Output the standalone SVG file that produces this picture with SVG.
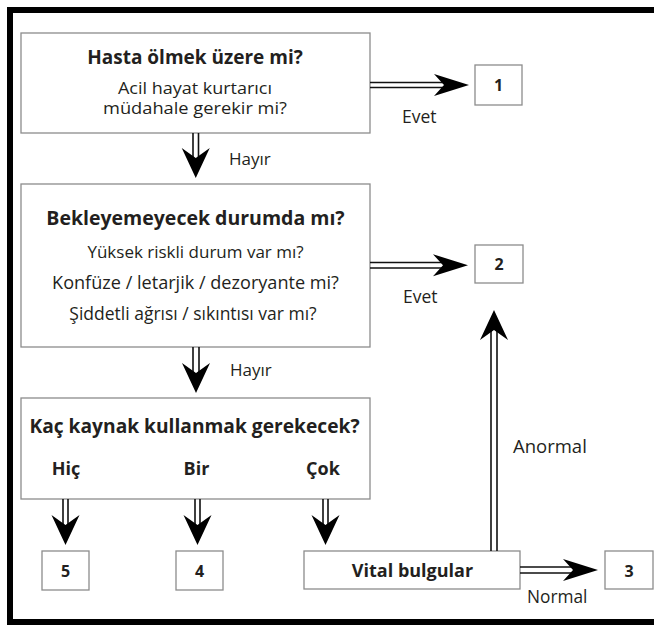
<svg xmlns="http://www.w3.org/2000/svg" xmlns:xlink="http://www.w3.org/1999/xlink" width="654" height="625" viewBox="0 0 654 625">
<style>
.box{fill:#fff;stroke:#8c8c8c;stroke-width:1.3}
text{font-family:"Open Sans","Noto Sans",sans-serif;fill:#231f20}
.b{font-weight:bold;font-size:19px}
.r{font-size:17.5px}
.n{font-weight:bold;font-size:16px}
.m{text-anchor:middle}
.dl{stroke:#111;stroke-width:1.6;fill:none}
</style>
<defs>
<path id="ah" d="M0,0 L-35,-11 L-25,0 L-35,11 Z" fill="#000"/>
<path id="av" d="M0,0 L-30,-14 L-20,0 L-30,14 Z" fill="#000"/>
</defs>
<rect x="10" y="10" width="660" height="612" fill="#fff" stroke="#000" stroke-width="6"/>

<g id="n-q1">
<rect class="box" x="21" y="33" width="349" height="100"/>
<text class="b m" x="195" y="64">Hasta ölmek üzere mi?</text>
<text class="r m" x="195" y="94" style="font-size:16px" textLength="154" lengthAdjust="spacingAndGlyphs">Acil hayat kurtarıcı</text>
<text class="r m" x="195" y="114" style="font-size:16px" textLength="184" lengthAdjust="spacingAndGlyphs">müdahale gerekir mi?</text>
</g>
<g id="n-q2">
<rect class="box" x="21" y="184" width="349" height="163"/>
<text class="b m" x="195.5" y="225" style="font-size:19.5px">Bekleyemeyecek durumda mı?</text>
<text class="r m" x="195.5" y="258" style="font-size:17px">Yüksek riskli durum var mı?</text>
<text class="r m" x="195.5" y="289" style="font-size:18.1px">Konfüze / letarjik / dezoryante mi?</text>
<text class="r m" x="193" y="320" style="font-size:17.5px">Şiddetli ağrısı / sıkıntısı var mı?</text>
</g>
<g id="n-q3">
<rect class="box" x="21" y="398" width="349" height="101"/>
<text class="b m" x="194.5" y="433" style="font-size:19.2px">Kaç kaynak kullanmak gerekecek?</text>
<text class="b m" x="66" y="475" style="font-size:18px">Hiç</text>
<text class="b m" x="196.5" y="475" style="font-size:18px">Bir</text>
<text class="b m" x="323" y="475" style="font-size:18px">Çok</text>
</g>
<g id="n-1">
<rect class="box" x="475" y="65" width="47" height="40"/>
<text class="n m" x="498.5" y="91">1</text>
</g>
<g id="n-2">
<rect class="box" x="475" y="245" width="48" height="38"/>
<text class="n m" x="499" y="270">2</text>
</g>
<g id="n-5">
<rect class="box" x="42" y="551" width="47" height="39"/>
<text class="n m" x="65.5" y="577">5</text>
</g>
<g id="n-4">
<rect class="box" x="176" y="551" width="47" height="39"/>
<text class="n m" x="199.5" y="577">4</text>
</g>
<g id="n-vital">
<rect class="box" x="304" y="551" width="216" height="38"/>
<text class="b m" x="412.5" y="577" style="font-size:18px">Vital bulgular</text>
</g>
<g id="n-3">
<rect class="box" x="605" y="551" width="48" height="38"/>
<text class="n m" x="629" y="577">3</text>
</g>

<g id="connectors">
<path class="dl" d="M370,82.5H450M370,87.5H450"/>
<use xlink:href="#ah" transform="translate(469,85)"/>
<text class="r" x="402" y="123">Evet</text>

<path class="dl" d="M193,133V166M198.5,133V166"/>
<use xlink:href="#av" transform="translate(195.75,178) rotate(90)"/>
<text class="r" x="229" y="165" style="font-size:17px">Hayır</text>

<path class="dl" d="M370,262.5H450M370,268H450"/>
<use xlink:href="#ah" transform="translate(468,265.25)"/>
<text class="r" x="403" y="303">Evet</text>

<path class="dl" d="M193,347V382M199,347V382"/>
<use xlink:href="#av" transform="translate(196,393) rotate(90)"/>
<text class="r" x="230" y="376" style="font-size:17px">Hayır</text>

<path class="dl" d="M63,499V534M68,499V534"/>
<use xlink:href="#av" transform="translate(65.5,545) rotate(90)"/>
<path class="dl" d="M195,499V534M200,499V534"/>
<use xlink:href="#av" transform="translate(197.5,545) rotate(90)"/>
<path class="dl" d="M323,499V534M328,499V534"/>
<use xlink:href="#av" transform="translate(325.5,545) rotate(90)"/>

<path class="dl" d="M491,551V322M497,551V322"/>
<use xlink:href="#av" transform="translate(494,310) rotate(-90)"/>
<text class="r" x="513" y="453" style="font-size:18.5px">Anormal</text>

<path class="dl" d="M520,567H580M520,573H580"/>
<use xlink:href="#ah" transform="translate(598,570)"/>
<text class="r" x="527" y="603" style="font-size:17.3px">Normal</text>
</g>
</svg>
